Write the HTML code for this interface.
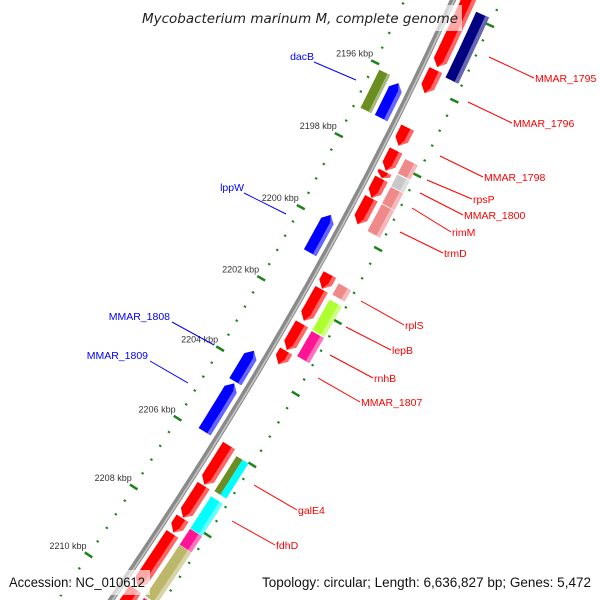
<!DOCTYPE html>
<html><head><meta charset="utf-8">
<style>
html,body{margin:0;padding:0;background:#fff;width:600px;height:600px;overflow:hidden;}
svg{display:block;overflow:hidden;}
</style></head>
<body>
<svg id="map" width="600" height="600" viewBox="0 0 600 600" xmlns="http://www.w3.org/2000/svg">
<rect x="0" y="0" width="600" height="600" fill="#fff"/>
<g id="ticks"></g>
<g id="backbone"></g>
<g id="genes"></g>
<g id="labels"></g>
<rect x="138" y="5" width="324" height="26" fill="#fff" fill-opacity="0.65"/>
<text x="142" y="23" textLength="316" lengthAdjust="spacingAndGlyphs" font-family="DejaVu Sans, sans-serif" font-style="italic" font-size="13" fill="#222">Mycobacterium marinum M, complete genome</text>
<rect x="4" y="570" width="146" height="25" fill="#fff" fill-opacity="0.65"/>
<text x="9" y="587" textLength="136" lengthAdjust="spacingAndGlyphs" font-family="Liberation Sans, sans-serif" font-size="13.5" fill="#111">Accession: NC_010612</text>
<rect x="256" y="570" width="340" height="25" fill="#fff" fill-opacity="0.65"/>
<text x="262" y="587" textLength="329" lengthAdjust="spacingAndGlyphs" font-family="Liberation Sans, sans-serif" font-size="13.5" fill="#111">Topology: circular; Length: 6,636,827 bp; Genes: 5,472</text>
</svg>
<script>
// ---- data ----
const tickKbp = [2196, 2198, 2200, 2202, 2204, 2206, 2208, 2210];
const tickLabels = ["2196 kbp","2198 kbp","2200 kbp","2202 kbp","2204 kbp","2206 kbp","2208 kbp","2210 kbp"];
// forward-strand genes (outer ring 1, right)
const fwdStart = [2193.0, 2195.53, 2197.08, 2197.70, 2198.28, 2198.47, 2199.00, 2201.10, 2201.51, 2202.47, 2203.23, 2205.90, 2207.05, 2207.99, 2208.44, 2210.05];
const fwdEnd   = [2195.45, 2196.15, 2197.57, 2198.25, 2198.45, 2198.99, 2199.71, 2201.49, 2202.38, 2203.20, 2203.60, 2207.02, 2207.97, 2208.40, 2209.96, 2211.3];
// reverse-strand genes (inner ring 1, left)
const revStart = [2196.21, 2199.82, 2203.62, 2204.55];
const revEnd   = [2197.16, 2200.87, 2204.50, 2205.93];
// COG-coloured features ring 2 (right)
const ring2Start = [2193.84, 2197.78, 2198.20, 2198.54, 2199.01, 2201.18, 2201.63, 2202.50, 2207.17, 2208.10, 2208.57];
const ring2End   = [2195.59, 2198.17, 2198.52, 2198.99, 2199.74, 2201.49, 2202.47, 2203.20, 2208.09, 2208.56, 2210.05];
const ring2Color = ["#000080","#f08a8a","#c8c8c8","#f08a8a","#f08a8a","#f08a8a","#adff2f","#ff1493","#00ffff","#ff1493","#bdb76b"];
// split features ring 2 (two half-width bands)
const splitStart = [2206.02, 2210.10];
const splitEnd   = [2207.02, 2211.2];
const splitInner = ["#6b8e23","#ff1493"];
const splitOuter = ["#00ffff","#adff2f"];
// ring 2 left
const leftR2Start = [2196.12];
const leftR2End   = [2197.16];
const leftR2Color = ["#6b8e23"];

// ---- geometry ----
const NS='http://www.w3.org/2000/svg';
function bx(y){return 453-0.4535*y-0.000194*y*y;}
const ys=[],ss=[];
(function(){let s=0,py=-150,px=bx(-150);for(let y=-150;y<=750;y+=0.5){const x=bx(y);s+=Math.hypot(x-px,y-py);ys.push(y);ss.push(s);px=x;py=y;}})();
function sAt(y){for(let i=1;i<ys.length;i++){if(ys[i]>=y){const t=(y-ys[i-1])/(ys[i]-ys[i-1]);return ss[i-1]+t*(ss[i]-ss[i-1]);}}return ss[ss.length-1];}
const S0=sAt(81.5), PXK=41.2;
function yAtS(s){let lo=0,hi=ss.length-1;while(hi-lo>1){const m=(lo+hi)>>1;if(ss[m]<s)lo=m;else hi=m;}const t=(s-ss[lo])/(ss[hi]-ss[lo]||1);return ys[lo]+t*(ys[hi]-ys[lo]);}
function pt(k,p){const y=yAtS(S0+(k-2196)*PXK);const x=bx(y);const d=-0.4535-0.000388*y;const n=Math.hypot(1,d);return [x+p/n, y-d*p/n];}
function poly(pts,fill,name,parent){const e=document.createElementNS(NS,'polygon');e.setAttribute('points',pts.map(q=>q[0].toFixed(1)+','+q[1].toFixed(1)).join(' '));e.setAttribute('fill',fill);


parent.appendChild(e);return e;}
function band(a,b,p1,p2){const pts=[];const N=12;for(let i=0;i<=N;i++)pts.push(pt(a+(b-a)*i/N,p2));for(let i=N;i>=0;i--)pts.push(pt(a+(b-a)*i/N,p1));return pts;}
function light(c){const r=parseInt(c.substr(1,2),16),g=parseInt(c.substr(3,2),16),b=parseInt(c.substr(5,2),16);const f=v=>Math.round(v+(255-v)*0.4);return 'rgb('+f(r)+','+f(g)+','+f(b)+')';}
function arrow(a,b,p1,p2,dir,col,name,parent){
  const head=Math.min(7/PXK,(b-a)*0.6);const pm=(p1+p2)/2;const N=10;let pts=[];
  if(dir>0){const sh=b-head;for(let i=0;i<=N;i++)pts.push(pt(a+(sh-a)*i/N,p2));pts.push(pt(b,pm));for(let i=N;i>=0;i--)pts.push(pt(a+(sh-a)*i/N,p1));
    poly(pts,col,name,parent);const w=(p2-p1)*0.28;poly(band(a,sh,p2-w,p2),light(col),name+'-highlight',parent);
    poly([pt(sh,p2-w),pt(sh,p2),pt(b,pm),pt(b,pm-0.1)],light(col),name+'-tip-highlight',parent);}
  else{const sh=a+head;pts.push(pt(a,pm));for(let i=0;i<=N;i++)pts.push(pt(sh+(b-sh)*i/N,p2));for(let i=N;i>=0;i--)pts.push(pt(sh+(b-sh)*i/N,p1));
    poly(pts,col,name,parent);const w=(p2-p1)*0.28;poly(band(sh,b,p2-w,p2),light(col),name+'-highlight',parent);
    poly([pt(a,pm),pt(a,pm+0.1),pt(sh,p2),pt(sh,p2-w)],light(col),name+'-tip-highlight',parent);}
}
// ticks & dots
const tg=document.getElementById('ticks');
for(let i=-8;i<=38;i++){const k=2196+0.4*i;const major=(i%5===0);
  [-44,44].forEach(p=>{const h=major?4.5:1.2;const A=pt(k,p-h),B=pt(k,p+h);const l=document.createElementNS(NS,'line');
    l.setAttribute('x1',A[0]);l.setAttribute('y1',A[1]);l.setAttribute('x2',B[0]);l.setAttribute('y2',B[1]);
    l.setAttribute('stroke','#1c821c');l.setAttribute('stroke-width',major?2.5:2);
    
    
    tg.appendChild(l);});}
tickKbp.forEach((k,i)=>{const q=pt(k,-44);const t=document.createElementNS(NS,'text');t.setAttribute('x',q[0]-2);t.setAttribute('y',q[1]-6);
  t.setAttribute('text-anchor','end');t.setAttribute('font-family','Liberation Sans, sans-serif');t.setAttribute('font-size','9');t.setAttribute('fill','#333');
  
  
  t.textContent=tickLabels[i];tg.appendChild(t);});
// backbone
const bg=document.getElementById('backbone');
function curve(p){let d='';for(let k=2192;k<=2212;k+=0.2){const q=pt(k,p);d+=(d?'L':'M')+q[0].toFixed(1)+','+q[1].toFixed(1);}return d;}
[[0,6,'#8a8a8a'],[1.2,1.6,'#c4c4c4']].forEach(s=>{const e=document.createElementNS(NS,'path');e.setAttribute('d',curve(s[0]));e.setAttribute('fill','none');e.setAttribute('stroke',s[2]);e.setAttribute('stroke-width',s[1]);
  
  
  bg.appendChild(e);});
// genes
const gg=document.getElementById('genes');
fwdStart.forEach((a,i)=>arrow(a,fwdEnd[i],7,21,1,'#ff0000','forward-gene',gg));
revStart.forEach((a,i)=>arrow(a,revEnd[i],-21,-7,-1,'#0000ff','reverse-gene',gg));
ring2Start.forEach((a,i)=>{poly(band(a,ring2End[i],26,40),ring2Color[i],'cog-feature',gg);poly(band(a,ring2End[i],36,40),light(ring2Color[i]),'cog-feature-highlight',gg);});
splitStart.forEach((a,i)=>{poly(band(a,splitEnd[i],26,33),splitInner[i],'cog-feature-inner',gg);poly(band(a,splitEnd[i],33,40),splitOuter[i],'cog-feature-outer',gg);});
leftR2Start.forEach((a,i)=>{poly(band(a,leftR2End[i],-37,-25),leftR2Color[i],'cog-feature-left',gg);poly(band(a,leftR2End[i],-28,-25),light(leftR2Color[i]),'cog-feature-left-highlight',gg);});
// labels
const lg=document.getElementById('labels');
const labR=[["MMAR_1795",535,78,489,57],["MMAR_1796",513,123,468,102],["MMAR_1798",484,177,440,156],["rpsP",473,199,427,180],["MMAR_1800",464,215,420,193],["rimM",452,232,412,208],["trmD",444,253,400,232],["rplS",405,325,361,301],["lepB",392,350,346,327],["rnhB",374,378,330,355],["MMAR_1807",361,402,318,378],["galE4",298,510,254,485],["fdhD",276,545,232,521]];
const labL=[["dacB",314,56,314,62,356,80],["lppW",244,187,244,193,286,214],["MMAR_1808",170,316,172,322,214,345],["MMAR_1809",148,355,150,361,188,383]];
labR.forEach(r=>{const l=document.createElementNS(NS,'line');l.setAttribute('x1',r[3]);l.setAttribute('y1',r[4]);l.setAttribute('x2',r[1]-1);l.setAttribute('y2',r[2]);l.setAttribute('stroke','#ff0000');l.setAttribute('stroke-width','1');
  
  
  lg.appendChild(l);
  const t=document.createElementNS(NS,'text');t.setAttribute('x',r[1]);t.setAttribute('y',r[2]+4);t.setAttribute('font-family','Liberation Sans, sans-serif');t.setAttribute('font-size','10.5');t.setAttribute('fill','#ff0000');
  
  
  t.textContent=r[0];lg.appendChild(t);});
labL.forEach(r=>{const l=document.createElementNS(NS,'line');l.setAttribute('x1',r[3]);l.setAttribute('y1',r[4]);l.setAttribute('x2',r[5]);l.setAttribute('y2',r[6]);l.setAttribute('stroke','#0000ff');l.setAttribute('stroke-width','1');
  
  
  lg.appendChild(l);
  const t=document.createElementNS(NS,'text');t.setAttribute('x',r[1]);t.setAttribute('y',r[2]+4);t.setAttribute('text-anchor','end');t.setAttribute('font-family','Liberation Sans, sans-serif');t.setAttribute('font-size','10.5');t.setAttribute('fill','#0000ff');
  
  
  t.textContent=r[0];lg.appendChild(t);});
</script>
</body></html>
